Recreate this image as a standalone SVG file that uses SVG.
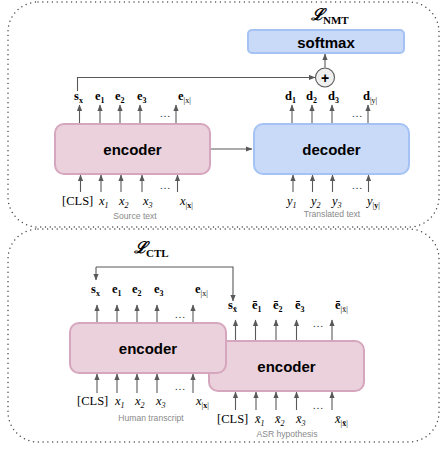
<svg xmlns="http://www.w3.org/2000/svg" width="441" height="452" viewBox="0 0 441 452">
  <style>
    .frame { fill: none; stroke: #4a4a4a; stroke-width: 1.5; stroke-dasharray: 0 4.8; stroke-linecap: round; }
    .enc { fill: #ead1dc; stroke: #d5a6bd; stroke-width: 2; }
    .dec { fill: #c9daf8; stroke: #a4c2f4; stroke-width: 2; }
    .box-text { font-family: "Liberation Sans", Arial, sans-serif; font-weight: bold; font-size: 15px; fill: #000; text-anchor: middle; }
    .lb { font-family: "Liberation Serif", "Times New Roman", serif; font-weight: bold; font-size: 12.5px; fill: #000; }
    .it { font-family: "Liberation Serif", "Times New Roman", serif; font-style: italic; font-size: 12.5px; fill: #000; }
    .cls { font-family: "Liberation Serif", "Times New Roman", serif; font-size: 12.5px; fill: #000; }
    .sub { font-size: 8px; }
    .bsub { font-size: 8px; font-weight: bold; font-style: normal; }
    .nsub { font-size: 8px; font-weight: normal; font-style: normal; }
    .dots { font-family: "Liberation Serif", serif; font-size: 11px; fill: #333; text-anchor: middle; }
    .cap { font-family: "Liberation Sans", Arial, sans-serif; font-size: 8.6px; fill: #8a8a8a; text-anchor: middle; }
    .loss { font-family: "DejaVu Serif", serif; font-style: italic; font-weight: bold; font-size: 16px; fill: #000; }
    .lsub { font-family: "Liberation Serif", serif; font-weight: bold; font-size: 11px; fill: #000; }
    .conn line, .conn path { stroke: #595959; stroke-width: 1.1; fill: none; marker-end: url(#ah); }
  </style>
  <defs>
    <marker id="ah" markerUnits="userSpaceOnUse" markerWidth="7" markerHeight="6" refX="6" refY="2.6" orient="auto">
      <path d="M0,0 L6.5,2.6 L0,5.2 z" fill="#595959"/>
    </marker>
  </defs>

  <!-- dotted section frames -->
  <rect class="frame" x="8" y="2" width="431" height="225" rx="30"/>
  <rect class="frame" x="8" y="229" width="431" height="213" rx="30"/>

  <!-- connectors -->
  <g id="connectors" class="conn">
    <!-- NMT section -->
    <path d="M77.5,91 V77.5 H315"/>
    <line x1="325" y1="67.5" x2="325" y2="54"/>
    <line x1="210" y1="149" x2="252" y2="149"/>
    <line x1="79.5" y1="123" x2="79.5" y2="105"/>
    <line x1="100" y1="123" x2="100" y2="105"/>
    <line x1="120" y1="123" x2="120" y2="105"/>
    <line x1="140" y1="123" x2="140" y2="105"/>
    <line x1="176" y1="123" x2="176" y2="105"/>
    <line x1="292" y1="123" x2="292" y2="105"/>
    <line x1="312" y1="123" x2="312" y2="105"/>
    <line x1="332" y1="123" x2="332" y2="105"/>
    <line x1="368" y1="123" x2="368" y2="105"/>
    <line x1="80.5" y1="192" x2="80.5" y2="175"/>
    <line x1="101" y1="192" x2="101" y2="175"/>
    <line x1="121" y1="192" x2="121" y2="175"/>
    <line x1="142" y1="192" x2="142" y2="175"/>
    <line x1="177.5" y1="192" x2="177.5" y2="175"/>
    <line x1="293" y1="192" x2="293" y2="175"/>
    <line x1="312.5" y1="192" x2="312.5" y2="175"/>
    <line x1="332.5" y1="192" x2="332.5" y2="175"/>
    <line x1="368.5" y1="192" x2="368.5" y2="175"/>
    <!-- CTL section -->
    <path d="M96,267 H233 V301"/>
    <line x1="96" y1="267" x2="96" y2="280"/>
    <line x1="97" y1="322" x2="97" y2="305"/>
    <line x1="117" y1="322" x2="117" y2="305"/>
    <line x1="137" y1="322" x2="137" y2="305"/>
    <line x1="157" y1="322" x2="157" y2="305"/>
    <line x1="193" y1="322" x2="193" y2="305"/>
    <line x1="235.5" y1="340" x2="235.5" y2="320"/>
    <line x1="255.5" y1="340" x2="255.5" y2="320"/>
    <line x1="276" y1="340" x2="276" y2="320"/>
    <line x1="296.5" y1="340" x2="296.5" y2="320"/>
    <line x1="332" y1="340" x2="332" y2="320"/>
    <line x1="97" y1="393" x2="97" y2="374"/>
    <line x1="117" y1="393" x2="117" y2="374"/>
    <line x1="137" y1="393" x2="137" y2="374"/>
    <line x1="157" y1="393" x2="157" y2="374"/>
    <line x1="193" y1="393" x2="193" y2="374"/>
    <line x1="235.5" y1="410" x2="235.5" y2="392"/>
    <line x1="256" y1="410" x2="256" y2="392"/>
    <line x1="276" y1="410" x2="276" y2="392"/>
    <line x1="296.5" y1="410" x2="296.5" y2="392"/>
    <line x1="332" y1="410" x2="332" y2="392"/>
  </g>

  <!-- NMT section nodes -->
  <g id="loss-nmt">
    <text x="311" y="20" class="loss">ℒ</text>
    <text x="323" y="24" class="lsub">NMT</text>
  </g>
  <g id="softmax">
    <rect class="dec" x="248" y="30" width="156" height="23" rx="4"/>
    <text x="326" y="47.5" class="box-text">softmax</text>
  </g>
  <g id="sum">
    <circle cx="325" cy="77.5" r="9.5" fill="#efefef" stroke="#595959" stroke-width="1.1"/>
    <text x="325" y="82.5" text-anchor="middle" font-family="Liberation Sans, Arial, sans-serif" font-weight="bold" font-size="14">+</text>
  </g>
  <g id="nmt-encoder">
    <rect class="enc" x="55" y="124" width="155" height="50" rx="9"/>
    <text x="132.5" y="154.5" class="box-text">encoder</text>
  </g>
  <g id="nmt-decoder">
    <rect class="dec" x="254" y="124" width="155" height="50" rx="9"/>
    <text x="331.5" y="154.5" class="box-text">decoder</text>
  </g>
  <g id="nmt-encoder-outputs">
    <text x="74" y="100" class="lb">s<tspan class="sub" dy="2.5">x</tspan></text>
    <text x="95" y="100" class="lb">e<tspan class="sub" dy="2.5">1</tspan></text>
    <text x="115" y="100" class="lb">e<tspan class="sub" dy="2.5">2</tspan></text>
    <text x="137" y="100" class="lb">e<tspan class="sub" dy="2.5">3</tspan></text>
    <text x="178" y="100" class="lb">e<tspan class="nsub" dy="2.5">|x|</tspan></text>
    <text x="165" y="117" class="dots">…</text>
  </g>
  <g id="nmt-decoder-outputs">
    <text x="285" y="100" class="lb">d<tspan class="sub" dy="2.5">1</tspan></text>
    <text x="306" y="100" class="lb">d<tspan class="sub" dy="2.5">2</tspan></text>
    <text x="328" y="100" class="lb">d<tspan class="sub" dy="2.5">3</tspan></text>
    <text x="363" y="100" class="lb">d<tspan class="nsub" dy="2.5">|y|</tspan></text>
    <text x="357" y="117" class="dots">…</text>
  </g>
  <g id="source-tokens">
    <text x="62" y="205" class="cls">[CLS]</text>
    <text x="99" y="205" class="it">x<tspan class="sub" dy="3">1</tspan></text>
    <text x="119" y="205" class="it">x<tspan class="sub" dy="3">2</tspan></text>
    <text x="143" y="205" class="it">x<tspan class="sub" dy="3">3</tspan></text>
    <text x="180" y="205" class="it">x<tspan class="nsub" dy="3">|</tspan><tspan class="bsub">x</tspan><tspan class="nsub">|</tspan></text>
    <text x="165" y="189" class="dots">…</text>
    <text x="135" y="219" class="cap">Source text</text>
  </g>
  <g id="target-tokens">
    <text x="287" y="205" class="it">y<tspan class="sub" dy="3">1</tspan></text>
    <text x="311" y="205" class="it">y<tspan class="sub" dy="3">2</tspan></text>
    <text x="332" y="205" class="it">y<tspan class="sub" dy="3">3</tspan></text>
    <text x="367" y="205" class="it">y<tspan class="nsub" dy="3">|</tspan><tspan class="bsub">y</tspan><tspan class="nsub">|</tspan></text>
    <text x="357" y="189" class="dots">…</text>
    <text x="332" y="217" class="cap">Translated text</text>
  </g>

  <!-- CTL section nodes -->
  <g id="loss-ctl">
    <text x="134" y="253" class="loss">ℒ</text>
    <text x="146" y="257" class="lsub">CTL</text>
  </g>
  <g id="asr-encoder">
    <rect class="enc" x="209" y="341" width="155" height="50" rx="9"/>
    <text x="286.5" y="371.5" class="box-text">encoder</text>
  </g>
  <g id="human-encoder">
    <rect class="enc" x="70" y="323" width="156" height="50" rx="9"/>
    <text x="148" y="353.5" class="box-text">encoder</text>
  </g>
  <g id="human-encoder-outputs">
    <text x="91" y="293" class="lb">s<tspan class="sub" dy="2.5">x</tspan></text>
    <text x="112" y="293" class="lb">e<tspan class="sub" dy="2.5">1</tspan></text>
    <text x="132" y="293" class="lb">e<tspan class="sub" dy="2.5">2</tspan></text>
    <text x="154" y="293" class="lb">e<tspan class="sub" dy="2.5">3</tspan></text>
    <text x="195" y="293" class="lb">e<tspan class="nsub" dy="2.5">|x|</tspan></text>
    <text x="180" y="318" class="dots">…</text>
  </g>
  <g id="asr-encoder-outputs">
    <text x="228" y="309" class="lb">s<tspan class="sub" dy="2.5">x̄</tspan></text>
    <text x="252" y="309" class="lb">ē<tspan class="sub" dy="2.5">1</tspan></text>
    <text x="273" y="309" class="lb">ē<tspan class="sub" dy="2.5">2</tspan></text>
    <text x="295" y="309" class="lb">ē<tspan class="sub" dy="2.5">3</tspan></text>
    <text x="335" y="309" class="lb">ē<tspan class="nsub" dy="2.5">|x̄|</tspan></text>
    <text x="318" y="327" class="dots">…</text>
  </g>
  <g id="human-tokens">
    <text x="77" y="405" class="cls">[CLS]</text>
    <text x="115" y="405" class="it">x<tspan class="sub" dy="3">1</tspan></text>
    <text x="135" y="405" class="it">x<tspan class="sub" dy="3">2</tspan></text>
    <text x="156" y="405" class="it">x<tspan class="sub" dy="3">3</tspan></text>
    <text x="196" y="405" class="it">x<tspan class="nsub" dy="3">|</tspan><tspan class="bsub">x</tspan><tspan class="nsub">|</tspan></text>
    <text x="180" y="390" class="dots">…</text>
    <text x="151" y="421" class="cap">Human transcript</text>
  </g>
  <g id="asr-tokens">
    <text x="217" y="423" class="cls">[CLS]</text>
    <text x="255" y="423" class="it">x̄<tspan class="sub" dy="2.5">1</tspan></text>
    <text x="275" y="423" class="it">x̄<tspan class="sub" dy="2.5">2</tspan></text>
    <text x="296" y="423" class="it">x̄<tspan class="sub" dy="2.5">3</tspan></text>
    <text x="335" y="423" class="it">x̄<tspan class="nsub" dy="2.5">|</tspan><tspan class="bsub">x̄</tspan><tspan class="nsub">|</tspan></text>
    <text x="318" y="409" class="dots">…</text>
    <text x="287" y="436.5" class="cap">ASR hypothesis</text>
  </g>
</svg>
